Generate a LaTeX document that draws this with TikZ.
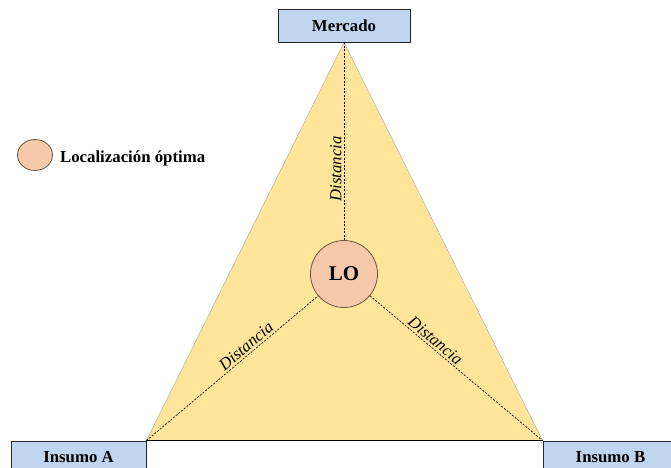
\documentclass[tikz,border=0pt]{standalone}
\usepackage{fontspec}
\setmainfont{Liberation Serif}
\usetikzlibrary{positioning, shapes.geometric, backgrounds}
\definecolor{boxblue}{HTML}{C0D6EE}
\definecolor{triyellow}{HTML}{FFE59A}
\definecolor{lofill}{HTML}{F6C9AB}
\definecolor{loedge}{HTML}{6E5242}
\tikzset{
  placebox/.style={rectangle, draw=black!85, fill=boxblue, line width=0.8pt,
                   minimum width=135pt, minimum height=33pt, inner sep=0pt,
                   font=\fontsize{16.8}{19}\selectfont\bfseries},
  locirc/.style={circle, draw=loedge, fill=lofill, line width=0.8pt,
                 minimum size=67pt, inner sep=0pt,
                 font=\fontsize{21}{24}\selectfont\bfseries},
  legcirc/.style={ellipse, draw=loedge, fill=lofill, line width=0.8pt,
                  minimum width=35pt, minimum height=31pt, inner sep=0pt},
  distline/.style={dash pattern=on 2pt off 1.5pt, line width=0.7pt, black},
  distlbl/.style={font=\fontsize{16.8}{19}\selectfont\itshape, sloped, above,
                  inner sep=2pt},
}
\begin{document}
\begin{tikzpicture}[x=1pt, y=1pt]
  \useasboundingbox (0,0) rectangle (671,467);

  % Vertices
  \node[placebox, minimum width=132pt] (merc) at (344,441.5) {Mercado};
  \node[placebox] (insA) at (78.5,9.5) {Insumo A};
  \node[placebox] (insB) at (610.5,9.5) {Insumo B};

  % Triangulo
  \begin{scope}[on background layer]
    \filldraw[fill=triyellow, draw=black!35, line width=0.4pt]
      (merc.south) -- (insA.north east) -- (insB.north west) -- cycle;
  \end{scope}
  \draw[line width=1.1pt] (insA.north east) -- (insB.north west);

  % Localizacion optima
  \node[locirc] (lo) at (344,193) {LO};
  \draw[distline] (lo) -- node[distlbl, pos=0.36] {Distancia} (merc.south);
  \draw[distline] (insA.north east) -- node[distlbl, pos=0.61] {Distancia} (lo);
  \draw[distline] (lo) -- node[distlbl, pos=0.35] {Distancia} (insB.north west);

  % Leyenda
  \node[legcirc] (leg) at (35,312) {};
  \node[right=7pt of leg, yshift=-3pt, inner sep=0pt,
        font=\fontsize{16.8}{19}\selectfont\bfseries]
    (legtxt) {Localización óptima};
\end{tikzpicture}
\end{document}
